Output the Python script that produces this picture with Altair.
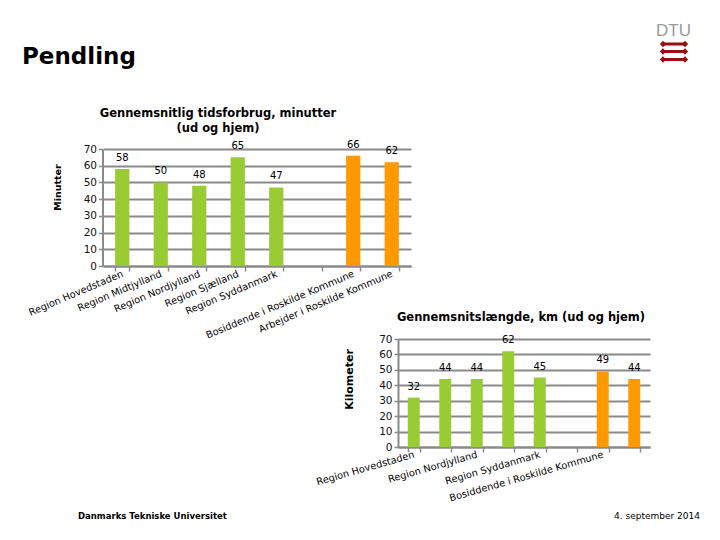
import json
import altair as alt
import pandas as pd

# ---------------- data ----------------
categories = ["Region Hovedstaden", "Region Midtjylland", "Region Nordjylland",
              "Region Sjælland", "Region Syddanmark", " ",
              "Bosiddende i Roskilde Kommune", "Arbejder i Roskilde Kommune"]
groups = ["Region", "Region", "Region", "Region", "Region", "",
          "Roskilde", "Roskilde"]
minutes = [58, 50, 48, 65, 47, None, 66, 62]
km = [32, 44, 44, 62, 45, None, 49, 44]
y_ticks = [0, 10, 20, 30, 40, 50, 60, 70]
group_names = ["Region", "Roskilde"]
group_colors = ["#99CC33", "#FF9900"]

rows = [dict(cat=c, group=g, minutes=m, km=k)
        for c, g, m, k in zip(categories, groups, minutes, km) if m is not None]
df = pd.DataFrame(rows)

# ---------------- styling ----------------
FONT = "DejaVu Sans"
GRID = "#8a8a8a"
RED = "#990f14"

color = alt.Color("group:N", scale=alt.Scale(domain=group_names, range=group_colors), legend=None)


def y_axis(offset, title, title_x, title_y, title_size):
    return alt.Axis(orient="left", offset=offset, values=y_ticks, grid=True,
                    gridColor=GRID, gridWidth=2, domainColor=GRID, domainWidth=2,
                    tickColor=GRID, tickWidth=1.5, tickSize=4,
                    labelFont=FONT, labelFontSize=10.5, labelColor="#111", labelPadding=2,
                    title=title, titleFont=FONT, titleFontSize=title_size,
                    titleFontWeight="bold", titleColor="#000", titleAngle=270,
                    titleAlign="center", titleBaseline="middle",
                    titleX=title_x, titleY=title_y)


def x_axis(offset, angle, label_expr=None):
    kw = dict(orient="bottom", offset=offset, tickBand="extent", grid=False,
              domainColor=GRID, domainWidth=2, tickColor=GRID, tickWidth=1.5, tickSize=5,
              labelAngle=angle, labelAlign="right", labelBaseline="middle", labelPadding=2,
              labelFont=FONT, labelFontSize=9.8, labelColor="#000", labelLimit=400,
              labelOverlap=False, title=None)
    if label_expr:
        kw["labelExpr"] = label_expr
    return alt.Axis(**kw)


# ---------------- chart 1: minutes ----------------
base1 = alt.Chart(df).encode(
    x=alt.X("cat:N", scale=alt.Scale(domain=categories, range=[95, 403],
                                     paddingInner=0.63, paddingOuter=0.315),
            axis=x_axis(-266, 337)),
    y=alt.Y("minutes:Q", scale=alt.Scale(domain=[0, 70], range=[258, 141], nice=False),
            axis=y_axis(-94.5, "Minutter", -45, 179, 9.5)),
)
chart1 = alt.layer(
    base1.mark_bar().encode(color=color),
    base1.mark_text(dy=-11, fontSize=10, font=FONT, color="#000").encode(text="minutes:Q"),
)

# ---------------- chart 2: km ----------------
shown = categories[0::2]
expr2 = "indexof(" + json.dumps(shown, ensure_ascii=False) + ", datum.value) >= 0 ? datum.label : ''"
base2 = alt.Chart(df).encode(
    x=alt.X("cat:N", scale=alt.Scale(domain=categories, range=[390, 642],
                                     paddingInner=0.62, paddingOuter=0.31),
            axis=x_axis(-85, 344, expr2)),
    y=alt.Y("km:Q", scale=alt.Scale(domain=[0, 70], range=[439, 331], nice=False),
            axis=y_axis(-390, "Kilometer", -49, 371, 11)),
)
chart2 = alt.layer(
    base2.mark_bar().encode(color=color),
    base2.mark_text(dy=-11, fontSize=10, font=FONT, color="#000").encode(text="km:Q"),
)


# ---------------- texts & logo ----------------
def label(text, x, y, size, weight="normal", align="left", color="#000", font=FONT,
          baseline="middle"):
    return alt.Chart(alt.Data(values=[{}])).mark_text(
        text=text, fontSize=size, fontWeight=weight, align=align, baseline=baseline,
        color=color, font=font).encode(x=alt.value(x), y=alt.value(y))


decor = [
    label("Pendling", 14, 56, 23, weight="bold", baseline="alphabetic"),
    label("Gennemsnitlig tidsforbrug,  minutter", 210, 106, 11.5, weight="bold", align="center"),
    label("(ud og hjem)", 210, 121, 11.5, weight="bold", align="center"),
    label("Gennemsnitslængde, km (ud og hjem)", 513, 310, 11.5, weight="bold", align="center"),
    label("Danmarks Tekniske Universitet", 70, 508, 8.5, weight="bold"),
    label("4. september 2014", 692, 508, 9, align="right"),
    label("DTU", 665.5, 28, 17, align="center", color="#9a9a9a",
          font="Liberation Sans Narrow, Liberation Sans", baseline="alphabetic"),
]
for ly in [36, 43.5, 51.5]:
    decor.append(alt.Chart(alt.Data(values=[{}])).mark_rule(color=RED, strokeWidth=3).encode(
        x=alt.value(655), x2=alt.value(677), y=alt.value(ly)))
    for lx in [655, 677]:
        decor.append(alt.Chart(alt.Data(values=[{}])).mark_point(
            shape="diamond", filled=True, size=40, color=RED, opacity=1).encode(
            x=alt.value(lx), y=alt.value(ly)))

chart = alt.layer(chart1, chart2, *decor).resolve_scale(
    x="independent", y="independent"
).properties(
    width=704, height=524, padding=0, autosize=alt.AutoSizeParams(type="none")
).configure_view(stroke=None)

chart.save("out.html", embed_options={"renderer": "svg", "actions": False})
